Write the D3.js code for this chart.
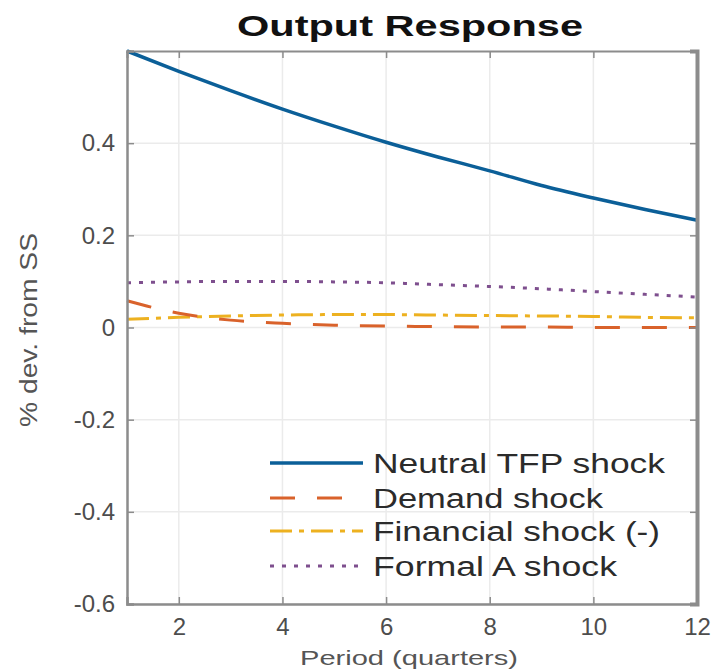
<!DOCTYPE html>
<html lang="en">
<head>
  <meta charset="UTF-8">
  <title>Output Response</title>
  <script src="https://d3js.org/d3.v7.min.js"></script>
  <style>
    body {
      margin: 0;
      padding: 0;
      background: #ffffff;
      font-family: "Liberation Sans", Arial, sans-serif;
    }
    svg { display: block; }
  </style>
</head>
<body>
  <svg id="chart"></svg>

  <script>
    // data
    const periods = [1, 2, 3, 4, 5, 6, 7, 8, 9, 10, 11, 12];
    const tfpShock = [0.600, 0.556, 0.514, 0.474, 0.437, 0.402, 0.370, 0.340, 0.308, 0.281, 0.256, 0.233];
    const demandShock = [0.058, 0.031, 0.016, 0.009, 0.005, 0.003, 0.002, 0.001, 0.001, 0.000, 0.000, 0.000];
    const financialShock = [0.018, 0.022, 0.025, 0.027, 0.028, 0.028, 0.027, 0.026, 0.025, 0.024, 0.022, 0.021];
    const formalAShock = [0.097, 0.099, 0.100, 0.100, 0.099, 0.097, 0.093, 0.089, 0.084, 0.078, 0.072, 0.066];

    const seriesNames = ["Neutral TFP shock", "Demand shock", "Financial shock (-)", "Formal A shock"];
    const xTicks = [2, 4, 6, 8, 10, 12];
    const yTicks = [-0.6, -0.4, -0.2, 0, 0.2, 0.4];

    const width = 715, height = 672;
    const margin = { top: 51, right: 18, bottom: 68, left: 127 };

    const svg = d3.select("#chart")
      .attr("width", width)
      .attr("height", height);

    const x = d3.scaleLinear().domain([1, 12]).range([margin.left, width - margin.right]);
    const y = d3.scaleLinear().domain([-0.6, 0.6]).range([height - margin.bottom, margin.top]);

    // grid
    const grid = svg.append("g");
    grid.selectAll(".gx").data(xTicks).enter().append("line")
      .attr("x1", d => x(d)).attr("x2", d => x(d))
      .attr("y1", y(0.6)).attr("y2", y(-0.6))
      .attr("stroke", "#ebebeb").attr("stroke-width", 1.5);
    grid.selectAll(".gy").data(yTicks).enter().append("line")
      .attr("x1", x(1)).attr("x2", x(12))
      .attr("y1", d => y(d)).attr("y2", d => y(d))
      .attr("stroke", "#ebebeb").attr("stroke-width", 1.5);

    // series
    const series = [
      { name: seriesNames[0], values: tfpShock, color: "#0b5f98", dash: null, width: 3.5 },
      { name: seriesNames[1], values: demandShock, color: "#d9622b", dash: "25,22", width: 3 },
      { name: seriesNames[2], values: financialShock, color: "#edb120", dash: "22,7,5,7", width: 3 },
      { name: seriesNames[3], values: formalAShock, color: "#7e4f8e", dash: "4,8", width: 3 }
    ];

    const line = d3.line()
      .x((d, i) => x(periods[i]))
      .y(d => y(d))
      .curve(d3.curveMonotoneX);

    svg.append("g").selectAll("path")
      .data(series.slice().reverse())
      .enter().append("path")
      .attr("d", d => line(d.values))
      .attr("fill", "none")
      .attr("stroke", d => d.color)
      .attr("stroke-width", d => d.width)
      .attr("stroke-dasharray", d => d.dash);

    // axes box
    const xAxis = d3.axisBottom(x).tickValues(xTicks).tickSize(-7).tickPadding(14).tickFormat(d3.format("d"));
    const xAxisTop = d3.axisTop(x).tickValues(xTicks).tickSize(-7).tickFormat("");
    const yAxis = d3.axisLeft(y).tickValues(yTicks).tickSize(-7).tickPadding(12)
      .tickFormat(d => d === 0 ? "0" : d.toFixed(1));
    const yAxisRight = d3.axisRight(y).tickValues(yTicks).tickSize(-7).tickFormat("");

    function styleAxis(g) {
      g.select(".domain").attr("stroke", "#8c8c8c").attr("stroke-width", 2.5);
      g.selectAll(".tick line").attr("stroke", "#8c8c8c").attr("stroke-width", 1.5);
      g.selectAll(".tick text")
        .attr("fill", "#4d4d4d")
        .style("font-family", "'Liberation Sans', Arial, sans-serif")
        .style("font-size", "24px");
    }

    svg.append("g").attr("transform", `translate(0,${y(-0.6)})`).call(xAxis).call(styleAxis);
    svg.append("g").attr("transform", `translate(0,${y(0.6)})`).call(xAxisTop).call(styleAxis)
      .select(".domain").attr("stroke-width", 2);
    svg.append("g").attr("transform", `translate(${x(1)},0)`).call(yAxis).call(styleAxis);
    svg.append("g").attr("transform", `translate(${x(12)},0)`).call(yAxisRight).call(styleAxis)
      .select(".domain").attr("stroke-width", 4);

    // title
    svg.append("text")
      .attr("x", 237).attr("y", 36)
      .attr("textLength", 346).attr("lengthAdjust", "spacingAndGlyphs")
      .style("font-family", "'Liberation Sans', Arial, sans-serif")
      .style("font-weight", "bold").style("font-size", "30px")
      .attr("fill", "#111")
      .text("Output Response");

    // axis labels
    svg.append("text")
      .attr("x", 300).attr("y", 665)
      .attr("textLength", 218).attr("lengthAdjust", "spacingAndGlyphs")
      .style("font-family", "'Liberation Sans', Arial, sans-serif")
      .style("font-size", "21px").attr("fill", "#555")
      .text("Period (quarters)");

    svg.append("text")
      .attr("transform", "translate(37,427) rotate(-90)")
      .attr("textLength", 194).attr("lengthAdjust", "spacingAndGlyphs")
      .style("font-family", "'Liberation Sans', Arial, sans-serif")
      .style("font-size", "23px").attr("fill", "#555")
      .text("% dev. from SS");

    // legend
    const legendRows = [463, 498, 531, 566];
    const legendWidths = [292, 230, 287, 244];
    const legend = svg.append("g");
    const items = legend.selectAll("g").data(series).enter().append("g")
      .attr("transform", (d, i) => `translate(0,${legendRows[i]})`);
    items.append("line")
      .attr("x1", 270).attr("x2", 363).attr("y1", 0).attr("y2", 0)
      .attr("stroke", d => d.color)
      .attr("stroke-width", d => d.width)
      .attr("stroke-dasharray", d => d.dash);
    items.append("text")
      .attr("x", 373).attr("y", 10)
      .attr("textLength", (d, i) => legendWidths[i]).attr("lengthAdjust", "spacingAndGlyphs")
      .style("font-family", "'Liberation Sans', Arial, sans-serif")
      .style("font-size", "27px").attr("fill", "#2b2b2b")
      .text(d => d.name);
  </script>
</body>
</html>
